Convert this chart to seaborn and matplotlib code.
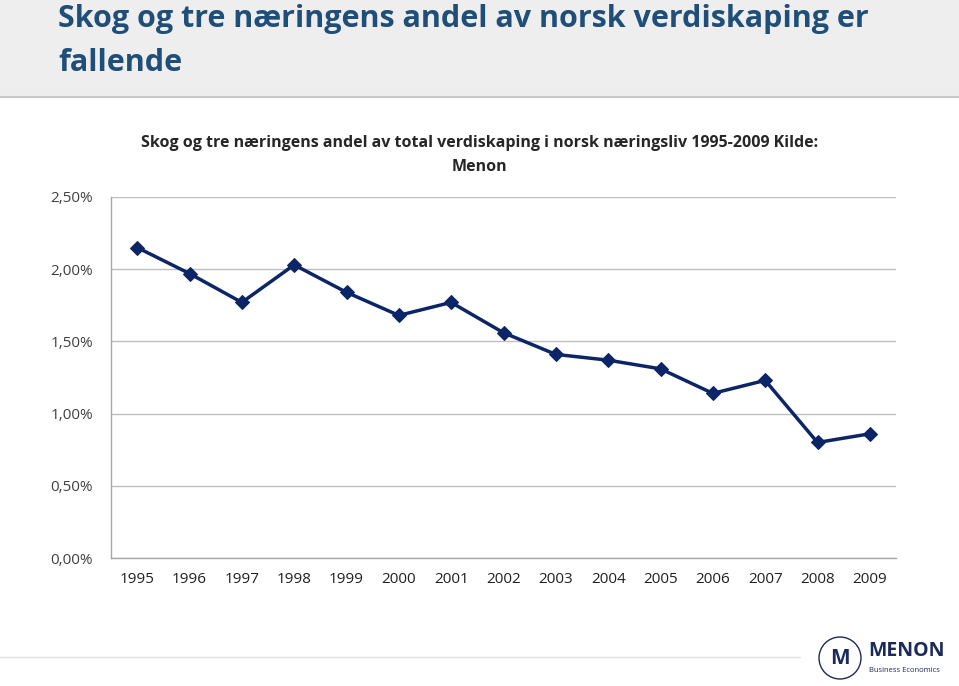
import matplotlib
matplotlib.use("Agg")
import matplotlib.pyplot as plt
from matplotlib.patches import Ellipse
import seaborn as sns
import numpy as np
import pandas as pd

years = ["1995", "1996", "1997", "1998", "1999", "2000", "2001", "2002",
         "2003", "2004", "2005", "2006", "2007", "2008", "2009"]
share = [2.15, 1.97, 1.77, 2.03, 1.84, 1.68, 1.77, 1.56,
         1.41, 1.37, 1.31, 1.14, 1.23, 0.80, 0.86]
y_ticks = [0.0, 0.5, 1.0, 1.5, 2.0, 2.5]

sns.set_theme(style="white")
plt.rcParams["font.family"] = ["Open Sans", "DejaVu Sans"]

df = pd.DataFrame({"pos": np.arange(len(years)), "share": share})

fig = plt.figure(figsize=(9.59, 6.86), dpi=100)

# grey title band
band = fig.add_axes([0, 1 - 97 / 686, 1, 97 / 686])
band.set_facecolor("#eeeeee")
band.set_xticks([])
band.set_yticks([])
for s in ["top", "left", "right"]:
    band.spines[s].set_visible(False)
band.spines["bottom"].set_color("#c8c8c8")
band.spines["bottom"].set_linewidth(1.5)
fig.text(58 / 959, 1 - 19 / 686, "Skog og tre næringens andel av norsk verdiskaping er",
         fontweight="bold", fontsize=22, color="#1f4e79", va="center")
fig.text(58 / 959, 1 - 63 / 686, "fallende",
         fontweight="bold", fontsize=22, color="#1f4e79", va="center")

ax = fig.add_axes([111 / 959, 1 - 558 / 686, 785 / 959, 361 / 686])
sns.lineplot(data=df, x="pos", y="share", ax=ax, color="#0c2566", linewidth=2.5,
             marker="D", markersize=7, markeredgecolor="#0c2566")

ax.set_xlim(-0.5, len(years) - 0.5)
ax.set_ylim(0, 2.5)
ax.set_yticks(y_ticks)
ax.set_yticklabels([f"{v:.2f}%".replace(".", ",") for v in y_ticks],
                   fontsize=11, color="#404040")
ax.set_xticks(np.arange(len(years)))
ax.set_xticklabels(years, fontsize=11, color="#202020")
ax.set_xticks(np.arange(len(years) + 1) - 0.5, minor=True)
ax.tick_params(axis="x", which="major", length=0, pad=10)
ax.tick_params(axis="x", which="minor", length=5, color="#a6a6a6", width=1, direction="out")
ax.tick_params(axis="y", which="major", length=5, color="#a6a6a6", width=1, pad=8)
ax.grid(axis="y", color="#bfbfbf", linewidth=1)
ax.set_axisbelow(True)
for s in ["top", "right"]:
    ax.spines[s].set_visible(False)
for s in ["left", "bottom"]:
    ax.spines[s].set_color("#a6a6a6")
    ax.spines[s].set_linewidth(1)
ax.set_xlabel("")
ax.set_ylabel("")

fig.text(0.5, 1 - 143 / 686,
         "Skog og tre næringens andel av total verdiskaping i norsk næringsliv 1995-2009 Kilde:",
         ha="center", va="center", fontsize=11.5, fontweight="bold", color="#262626")
fig.text(0.5, 1 - 167 / 686, "Menon", ha="center", va="center",
         fontsize=11.5, fontweight="bold", color="#262626")

# footer line and logo
fig.add_artist(plt.Line2D([0, 800 / 959], [1 - 657 / 686] * 2, color="#e0e0e0", linewidth=1))
fig.text(868 / 959, 1 - 651 / 686, "MENON", fontsize=14, fontweight="bold",
         color="#1b2a5c", va="center", ha="left")
fig.text(869 / 959, 1 - 670 / 686, "Business Economics", fontsize=5.5,
         color="#1b2a5c", va="center", ha="left")
logo = Ellipse((840 / 959, 1 - 658 / 686), 42 / 959, 42 / 686, transform=fig.transFigure,
               facecolor="white", edgecolor="#1b2a5c", linewidth=1)
fig.add_artist(logo)
fig.text(840 / 959, 1 - 658 / 686, "M", fontsize=15, fontweight="bold",
         color="#1b2a5c", ha="center", va="center")

fig.savefig("out.png", dpi=100)
